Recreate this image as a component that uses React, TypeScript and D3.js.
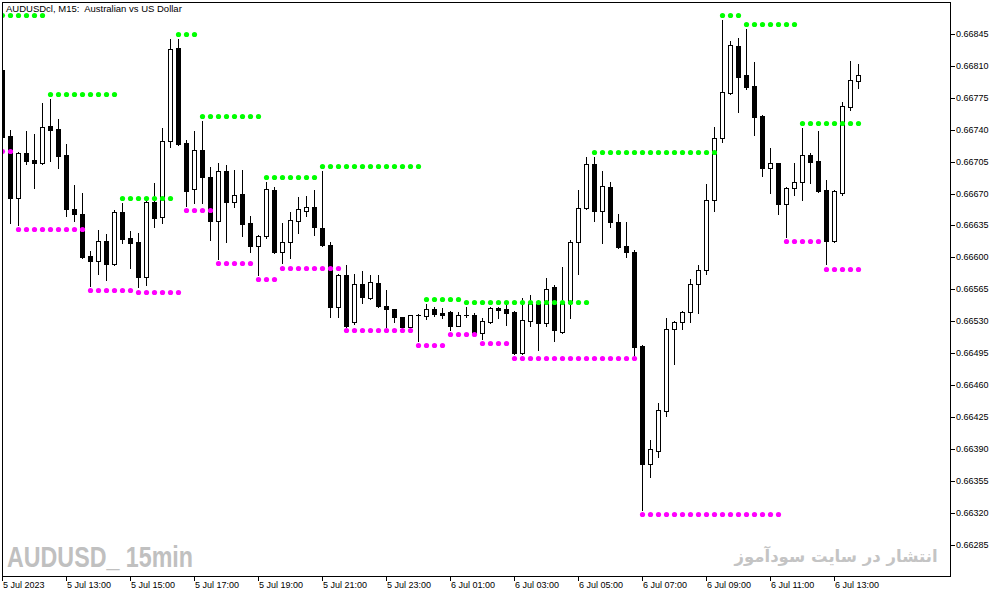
import React from 'react';
import * as d3 from 'd3';

// AUDUSD M15, bars from 5 Jul 11:00, one bar per 15 minutes
const opens = [
  0.66805, 0.66733, 0.66665, 0.66714, 0.66707, 0.66703, 0.66744, 0.66741, 0.66712, 0.66653,
  0.66648, 0.66601, 0.66596, 0.66618, 0.66593, 0.66650, 0.66621, 0.66617, 0.66578, 0.66661,
  0.66644, 0.66728, 0.66830, 0.66725, 0.66675, 0.66718, 0.66688, 0.66640, 0.66695, 0.66661,
  0.66669, 0.66638, 0.66612, 0.66623, 0.66674, 0.66606, 0.66617, 0.66640, 0.66651, 0.66655,
  0.66632, 0.66614, 0.66546, 0.66581, 0.66529, 0.66571, 0.66555, 0.66572, 0.66547, 0.66543,
  0.66535, 0.66524, 0.66537, 0.66536, 0.66543, 0.66539, 0.66540, 0.66525, 0.66537, 0.66537,
  0.66517, 0.66529, 0.66544, 0.66543, 0.66540, 0.66495, 0.66530, 0.66549, 0.66528, 0.66567,
  0.66518, 0.66550, 0.66617, 0.66654, 0.66702, 0.66651, 0.66677, 0.66639, 0.66612, 0.66606,
  0.66503, 0.66373, 0.66388, 0.66431, 0.66521, 0.66529, 0.66540, 0.66571, 0.66586, 0.66663,
  0.66731, 0.66780, 0.66832, 0.66800, 0.66788, 0.66755, 0.66698, 0.66703, 0.66658, 0.66676,
  0.66683, 0.66712, 0.66706, 0.66674, 0.66618, 0.66671, 0.66765, 0.66793,
];
const highs = [
  0.66808, 0.66740, 0.66716, 0.66739, 0.66735, 0.66769, 0.66774, 0.66752, 0.66724, 0.66679,
  0.66671, 0.66607, 0.66630, 0.66626, 0.66652, 0.66660, 0.66629, 0.66627, 0.66663, 0.66682,
  0.66742, 0.66840, 0.66840, 0.66729, 0.66739, 0.66750, 0.66699, 0.66703, 0.66701, 0.66696,
  0.66696, 0.66645, 0.66625, 0.66683, 0.66677, 0.66638, 0.66650, 0.66666, 0.66667, 0.66674,
  0.66695, 0.66617, 0.66582, 0.66592, 0.66582, 0.66585, 0.66581, 0.66581, 0.66564, 0.66543,
  0.66535, 0.66537, 0.66538, 0.66549, 0.66546, 0.66544, 0.66541, 0.66540, 0.66546, 0.66539,
  0.66533, 0.66546, 0.66545, 0.66549, 0.66541, 0.66555, 0.66559, 0.66553, 0.66577, 0.66570,
  0.66589, 0.66619, 0.66674, 0.66710, 0.66710, 0.66695, 0.66683, 0.66648, 0.66639, 0.66608,
  0.66504, 0.66400, 0.66440, 0.66533, 0.66530, 0.66541, 0.66576, 0.66592, 0.66680, 0.66743,
  0.66860, 0.66837, 0.66841, 0.66850, 0.66814, 0.66756, 0.66720, 0.66704, 0.66677, 0.66703,
  0.66742, 0.66714, 0.66739, 0.66685, 0.66674, 0.66770, 0.66815, 0.66812,
];
const lows = [
  0.66729, 0.66638, 0.66635, 0.66702, 0.66676, 0.66702, 0.66706, 0.66698, 0.66645, 0.66640,
  0.66599, 0.66569, 0.66582, 0.66575, 0.66592, 0.66616, 0.66588, 0.66567, 0.66570, 0.66633,
  0.66638, 0.66721, 0.66723, 0.66656, 0.66660, 0.66660, 0.66619, 0.66598, 0.66617, 0.66655,
  0.66623, 0.66606, 0.66581, 0.66621, 0.66605, 0.66594, 0.66599, 0.66627, 0.66645, 0.66625,
  0.66612, 0.66535, 0.66535, 0.66524, 0.66527, 0.66550, 0.66554, 0.66546, 0.66524, 0.66529,
  0.66522, 0.66523, 0.66508, 0.66532, 0.66536, 0.66533, 0.66520, 0.66525, 0.66535, 0.66515,
  0.66510, 0.66528, 0.66533, 0.66526, 0.66494, 0.66494, 0.66525, 0.66498, 0.66525, 0.66508,
  0.66517, 0.66533, 0.66582, 0.66653, 0.66640, 0.66616, 0.66633, 0.66610, 0.66600, 0.66491,
  0.66323, 0.66359, 0.66381, 0.66426, 0.66483, 0.66521, 0.66529, 0.66539, 0.66582, 0.66651,
  0.66727, 0.66779, 0.66759, 0.66785, 0.66734, 0.66689, 0.66671, 0.66648, 0.66622, 0.66668,
  0.66663, 0.66682, 0.66672, 0.66593, 0.66617, 0.66668, 0.66762, 0.66786,
];
const closes = [
  0.66732, 0.66665, 0.66714, 0.66706, 0.66703, 0.66743, 0.66740, 0.66711, 0.66653, 0.66648,
  0.66600, 0.66596, 0.66618, 0.66593, 0.66650, 0.66620, 0.66616, 0.66578, 0.66661, 0.66643,
  0.66728, 0.66829, 0.66724, 0.66673, 0.66718, 0.66688, 0.66640, 0.66695, 0.66661, 0.66668,
  0.66637, 0.66612, 0.66623, 0.66675, 0.66606, 0.66617, 0.66641, 0.66653, 0.66655, 0.66633,
  0.66614, 0.66546, 0.66581, 0.66525, 0.66571, 0.66557, 0.66573, 0.66547, 0.66543, 0.66535,
  0.66524, 0.66537, 0.66537, 0.66543, 0.66538, 0.66537, 0.66525, 0.66537, 0.66537, 0.66516,
  0.66530, 0.66544, 0.66542, 0.66539, 0.66495, 0.66531, 0.66549, 0.66528, 0.66565, 0.66520,
  0.66550, 0.66617, 0.66654, 0.66702, 0.66651, 0.66678, 0.66639, 0.66611, 0.66606, 0.66502,
  0.66373, 0.66390, 0.66433, 0.66521, 0.66529, 0.66540, 0.66571, 0.66586, 0.66663, 0.66731,
  0.66781, 0.66833, 0.66798, 0.66787, 0.66754, 0.66698, 0.66703, 0.66658, 0.66676, 0.66683,
  0.66712, 0.66705, 0.66673, 0.66618, 0.66673, 0.66766, 0.66795, 0.66800,
];

// fractal levels: [first bar, last bar, price]
const resistanceLevels: [number, number, number][] = [
  [0, 5, 0.66866], [6, 14, 0.66779], [15, 21, 0.66665], [22, 24, 0.66845],
  [25, 32, 0.66755], [33, 39, 0.66688], [40, 52, 0.66700], [53, 57, 0.66554],
  [58, 73, 0.66551], [74, 89, 0.66716], [90, 92, 0.66866], [93, 99, 0.66856],
  [100, 107, 0.66747],
];
const supportLevels: [number, number, number][] = [
  [0, 1, 0.66717], [2, 10, 0.66631], [11, 16, 0.66564], [17, 22, 0.66562],
  [23, 26, 0.66652], [27, 31, 0.66594], [32, 34, 0.66576], [35, 42, 0.66588],
  [43, 51, 0.66520], [52, 55, 0.66504], [56, 59, 0.66516], [60, 63, 0.66506],
  [64, 79, 0.66490], [80, 97, 0.66318], [98, 102, 0.66618], [103, 107, 0.66587],
];

const priceTicks = [
  0.66845, 0.66810, 0.66775, 0.66740, 0.66705, 0.66670, 0.66635, 0.66600, 0.66565,
  0.66530, 0.66495, 0.66460, 0.66425, 0.66390, 0.66355, 0.66320, 0.66285,
];
const timeTickBars = [0, 8, 16, 24, 32, 40, 48, 56, 64, 72, 80, 88, 96, 104];
const timeTickLabels = [
  '5 Jul 2023', '5 Jul 13:00', '5 Jul 15:00', '5 Jul 17:00', '5 Jul 19:00', '5 Jul 21:00',
  '5 Jul 23:00', '6 Jul 01:00', '6 Jul 03:00', '6 Jul 05:00', '6 Jul 07:00', '6 Jul 09:00',
  '6 Jul 11:00', '6 Jul 13:00',
];

const W = 1003;
const H = 597;
const FONT = '"Liberation Sans", Arial, sans-serif';
const PLOT = { left: 2, top: 2, right: 950, bottom: 576 };

export default function App() {
  const x = d3.scaleLinear().domain([0, 107]).range([2, 858]);
  const y = d3.scaleLinear().domain([0.66285, 0.66845]).range([544.5, 34]);

  const candles = opens.map((o, i) => {
    const c = closes[i];
    const cx = Math.round(x(i));
    const top = Math.round(y(Math.max(o, c)));
    const bot = Math.round(y(Math.min(o, c)));
    const hi = Math.round(y(highs[i]));
    const lo = Math.round(y(lows[i]));
    const bull = c >= o;
    let body;
    if (bot - top < 1) {
      body = <line x1={cx - 2} x2={cx + 3} y1={top + 0.5} y2={top + 0.5} stroke="#000" />;
    } else if (bull) {
      body = <rect x={cx - 1.5} y={top + 0.5} width={4} height={bot - top} fill="#fff" stroke="#000" />;
    } else {
      body = <rect x={cx - 2} y={top} width={5} height={bot - top + 1} fill="#000" />;
    }
    return (
      <g key={i}>
        <line x1={cx + 0.5} x2={cx + 0.5} y1={hi} y2={lo + 1} stroke="#000" />
        {body}
      </g>
    );
  });

  const dots = (levels: [number, number, number][], color: string, key: string) =>
    levels.flatMap(([a, b, p], li) =>
      d3.range(a, b + 1).map(i => (
        <circle key={`${key}${li}-${i}`} cx={Math.round(x(i)) + 0.5} cy={Math.round(y(p)) + 0.5} r={2.6} fill={color} />
      ))
    );

  return (
    <svg width={W} height={H} style={{ position: 'absolute', left: 0, top: 0, background: '#fff' }}>
      <defs>
        <clipPath id="plot-clip">
          <rect x={PLOT.left + 1} y={PLOT.top + 1} width={PLOT.right - PLOT.left - 1} height={PLOT.bottom - PLOT.top - 1} />
        </clipPath>
      </defs>

      {/* watermarks */}
      <text x={7} y={567} fontFamily='"Liberation Sans Narrow", "Liberation Sans", Arial, sans-serif' fontWeight="bold"
        fontSize={30} fill="#c0c0c0" textLength={186} lengthAdjust="spacingAndGlyphs">AUDUSD_ 15min</text>
      <text x={836} y={562} fontFamily='"DejaVu Sans", sans-serif' fontWeight="bold" fontSize={16.5}
        fill="#c4c4c4" textAnchor="middle" direction="rtl">انتشار در سایت سودآموز</text>

      <g clipPath="url(#plot-clip)">
        {candles}
        {dots(resistanceLevels, '#00ff00', 'r')}
        {dots(supportLevels, '#ff00ff', 's')}
      </g>

      <text x={6} y={12} fontFamily={FONT} fontSize={9.5} fill="#000" style={{ whiteSpace: 'pre' }}>AUDUSDcl, M15:  Australian vs US Dollar</text>

      <rect x={PLOT.left + 0.5} y={PLOT.top + 0.5} width={PLOT.right - PLOT.left} height={PLOT.bottom - PLOT.top}
        fill="none" stroke="#000" />

      {priceTicks.map(p => {
        const ty = Math.round(y(p));
        return (
          <g key={p}>
            <line x1={PLOT.right} x2={PLOT.right + 5} y1={ty + 0.5} y2={ty + 0.5} stroke="#000" />
            <text x={PLOT.right + 6} y={ty} dy="0.35em" fontFamily={FONT} fontSize={9} fill="#000">{p.toFixed(5)}</text>
          </g>
        );
      })}

      {timeTickBars.map((b, k) => {
        const tx = Math.round(x(b));
        return (
          <g key={b}>
            <line x1={tx + 0.5} x2={tx + 0.5} y1={PLOT.bottom} y2={PLOT.bottom + 5} stroke="#000" />
            <text x={tx + 1} y={588} fontFamily={FONT} fontSize={9} fill="#000">{timeTickLabels[k]}</text>
          </g>
        );
      })}
    </svg>
  );
}
